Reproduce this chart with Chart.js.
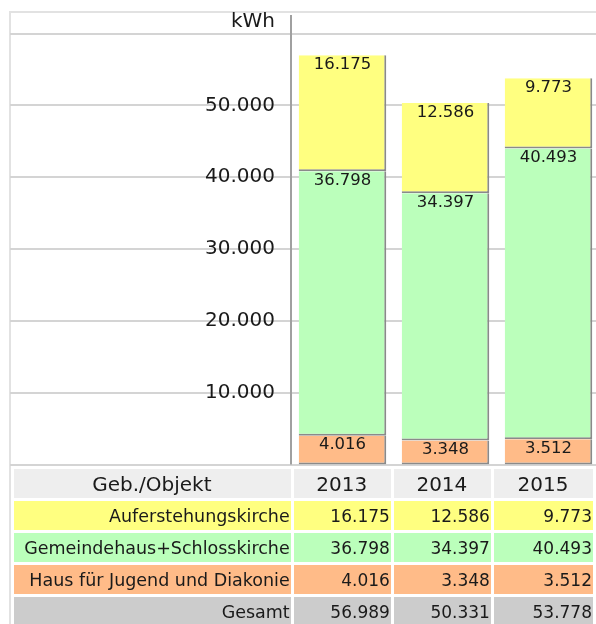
<!DOCTYPE html>
<html>
<head>
<meta charset="utf-8">
<script src="https://cdn.jsdelivr.net/npm/chart.js@4.4.1/dist/chart.umd.min.js"></script>
<style>
  html, body { margin: 0; padding: 0; background: #fff; overflow: hidden; width: 596px; height: 624px; }
  #chart { position: absolute; left: 0; top: 0; }
  #frameLeft { position: absolute; left: 9px; top: 12px; width: 2px; height: 612px; background: #e2e2e2; }
  table {
    position: absolute; left: 11px; top: 466px;
    border-collapse: separate; border-spacing: 3px;
    font-family: "DejaVu Sans", Verdana, sans-serif; color: #1a1a1a;
  }
  td { height: 29px; padding: 0 1px 0 0; font-size: 17px; text-align: right; white-space: nowrap; box-sizing: border-box; }
  td.name { font-size: 17.5px; }
  tr.head td { background: #eeeeee; font-size: 20px; text-align: center; }
  tr.r1 td { background: #ffff80; }
  tr.r2 td { background: #bbffbb; }
  tr.r3 td { background: #ffbb88; }
  tr.sum td { background: #cccccc; }
</style>
</head>
<body>
<div id="frameLeft"></div>
<canvas id="chart" width="600" height="500"></canvas>
<table id="tbl"></table>
<script>
const years = ['2013', '2014', '2015'];
const seriesNames = ['Auferstehungskirche', 'Gemeindehaus+Schlosskirche', 'Haus für Jugend und Diakonie'];
const auferstehung = [16175, 12586, 9773];
const gemeindehaus = [36798, 34397, 40493];
const hausJugend = [4016, 3348, 3512];
const gesamt = [56989, 50331, 53778];
const gridValues = [0, 10000, 20000, 30000, 40000, 50000, 60000];
const colors = ['#ffff80', '#bbffbb', '#ffbb88'];

function fmt(n) {
  return String(n).replace(/\B(?=(\d{3})+(?!\d))/g, '.');
}

// table under the chart
const tbl = document.getElementById('tbl');
const colWidths = [277, 98, 98, 100];
let html = '<tr class="head"><td style="width:' + colWidths[0] + 'px">Geb./Objekt</td>' +
  years.map((y, i) => `<td style="width:${colWidths[i + 1]}px">${y}</td>`).join('') + '</tr>';
[auferstehung, gemeindehaus, hausJugend].forEach((vals, r) => {
  html += `<tr class="r${r + 1}"><td class="name">${seriesNames[r]}</td>` + vals.map(v => `<td>${fmt(v)}</td>`).join('') + '</tr>';
});
html += '<tr class="sum"><td class="name">Gesamt</td>' + gesamt.map(v => `<td>${fmt(v)}</td>`).join('') + '</tr>';
tbl.innerHTML = html;

const frame = {
  id: 'frame',
  beforeDraw(chart) {
    const { ctx } = chart;
    const y = chart.scales.y;
    ctx.save();
    // top border
    ctx.fillStyle = '#e2e2e2';
    ctx.fillRect(9, 11, 600, 2);
    // grid lines across the whole width
    ctx.fillStyle = '#d4d4d4';
    gridValues.forEach(v => {
      const py = Math.round(y.getPixelForValue(v));
      ctx.fillRect(10, py - 1, 600, 2);
    });
    // axis line
    ctx.fillStyle = '#a0a0a0';
    ctx.fillRect(chart.chartArea.left - 1, 15, 2, y.getPixelForValue(0) - 15);
    // unit
    ctx.fillStyle = '#1a1a1a';
    ctx.font = '20px "DejaVu Sans", Verdana, sans-serif';
    ctx.textAlign = 'right';
    ctx.textBaseline = 'middle';
    ctx.fillText('kWh', 275, 22);
    ctx.restore();
  },
  afterDatasetsDraw(chart) {
    const { ctx } = chart;
    ctx.save();
    ctx.fillStyle = '#1a1a1a';
    ctx.font = '16.5px "DejaVu Sans", Verdana, sans-serif';
    ctx.textAlign = 'center';
    ctx.textBaseline = 'middle';
    chart.data.datasets.forEach((ds, di) => {
      chart.getDatasetMeta(di).data.forEach((bar, i) => {
        ctx.fillText(fmt(ds.data[i]), bar.x, bar.y + 9.5);
      });
    });
    ctx.restore();
  }
};

new Chart(document.getElementById('chart'), {
  type: 'bar',
  data: {
    labels: years,
    datasets: [
      { label: seriesNames[2], data: hausJugend, backgroundColor: colors[2] },
      { label: seriesNames[1], data: gemeindehaus, backgroundColor: colors[1] },
      { label: seriesNames[0], data: auferstehung, backgroundColor: colors[0] }
    ].map(d => Object.assign(d, {
      borderColor: '#8a8a8a',
      borderWidth: { top: 0, left: 0, right: 2, bottom: 2 },
      borderSkipped: false,
      categoryPercentage: 1,
      barPercentage: 0.85
    }))
  },
  options: {
    responsive: false,
    animation: false,
    layout: { padding: { top: 33.5, bottom: 35.5, left: 0, right: 0 } },
    plugins: { legend: { display: false }, tooltip: { enabled: false } },
    scales: {
      x: { stacked: true, display: false },
      y: {
        stacked: true,
        min: 0,
        max: 60000,
        grid: { display: false },
        border: { display: false },
        ticks: {
          stepSize: 10000,
          padding: 8,
          color: '#1a1a1a',
          font: { family: '"DejaVu Sans", Verdana, sans-serif', size: 20 },
          callback: v => (v === 0 || v === 60000) ? '' : fmt(v)
        },
        afterFit(s) { s.width = 291; }
      }
    }
  },
  plugins: [frame]
});
</script>
</body>
</html>
